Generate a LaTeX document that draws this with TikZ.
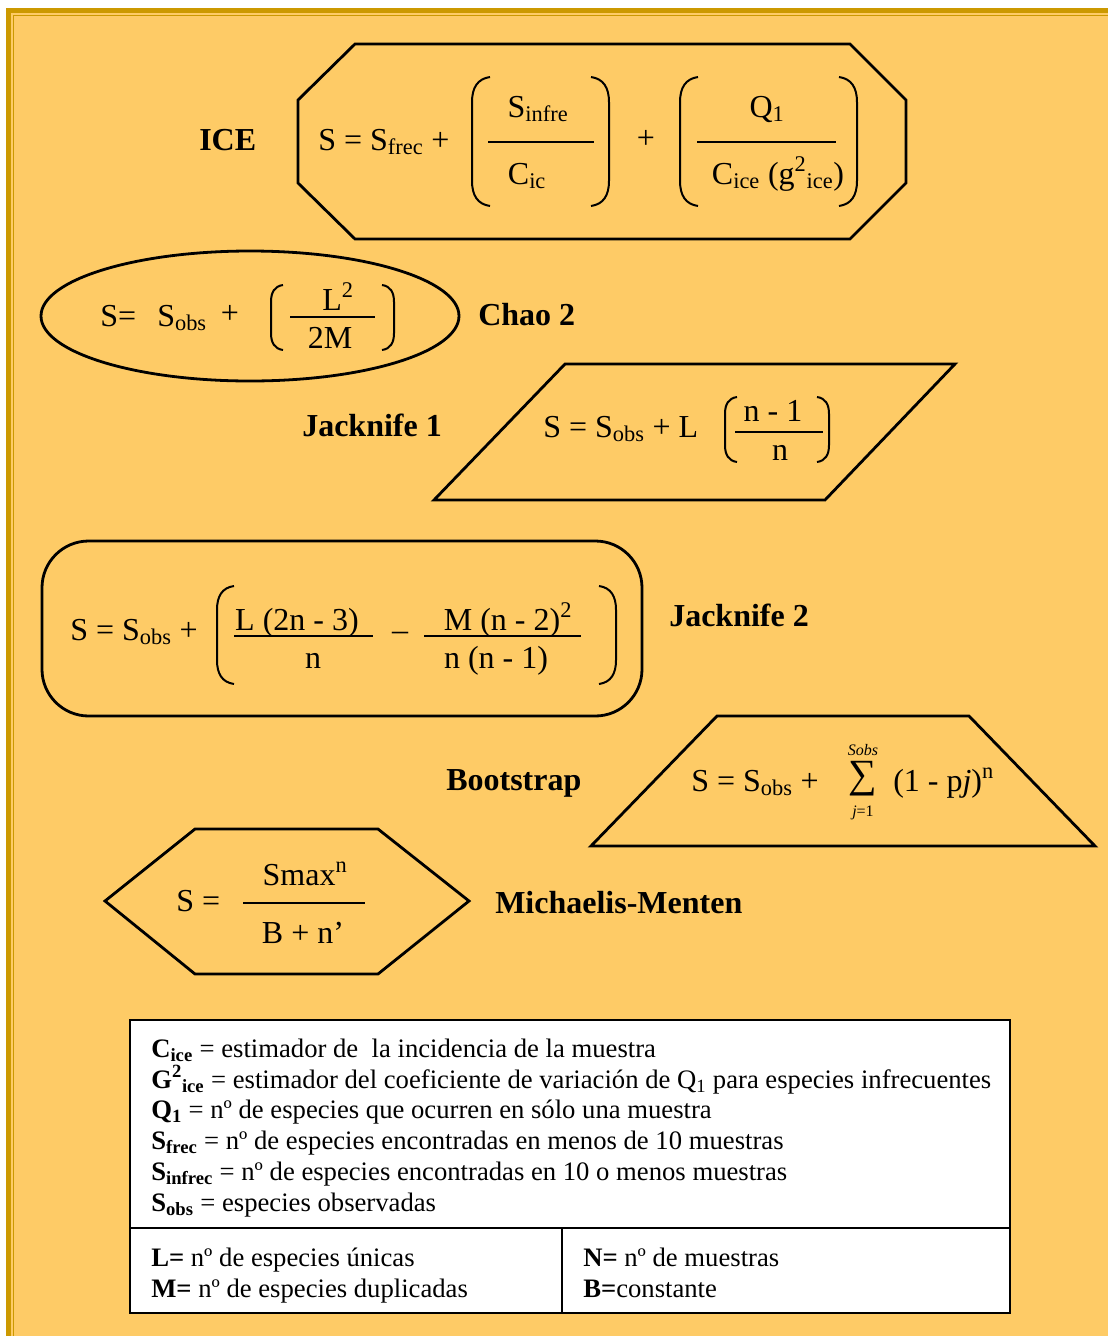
\documentclass[tikz,border=0pt]{standalone}
\usepackage{fontspec}
\setmainfont{Liberation Serif}
\definecolor{bgfill}{HTML}{FECB66}
\definecolor{gold}{HTML}{CC9900}
\newcommand{\LP}[4]{\draw[paren] ({#1+#4},#2) .. controls ({#1+0.3*#4},{#2+0.1*#4}) and (#1,{#2+0.6*#4}) .. (#1,{#2+1.4*#4}) -- (#1,{#3-1.4*#4}) .. controls (#1,{#3-0.6*#4}) and ({#1+0.3*#4},{#3-0.1*#4}) .. ({#1+#4},#3);}
\newcommand{\RP}[4]{\draw[paren] ({#1-#4},#2) .. controls ({#1-0.3*#4},{#2+0.1*#4}) and (#1,{#2+0.6*#4}) .. (#1,{#2+1.4*#4}) -- (#1,{#3-1.4*#4}) .. controls (#1,{#3-0.6*#4}) and ({#1-0.3*#4},{#3-0.1*#4}) .. ({#1-#4},#3);}
\tikzset{
  shapeline/.style={draw=black, line width=2.1pt, line join=miter},
  fbar/.style={line width=1.3pt},
  paren/.style={line width=1.5pt},
  ttl/.style={font=\fontsize{24}{28}\selectfont\bfseries, inner sep=0pt, anchor=base west},
  fx/.style={font=\fontsize{24}{28}\selectfont, inner sep=0pt},
  leg/.style={font=\fontsize{20}{24}\selectfont, inner sep=0pt, anchor=base west},
}
\begin{document}
\begin{tikzpicture}[x=0.75pt,y=-0.75pt]
\useasboundingbox (0,0) rectangle (1108,1336);
\fill[white] (0,0) rectangle (1108,1336);
\fill[gold] (6,8) rectangle (1108,1336);
\fill[bgfill] (11,13) rectangle (1108,1336);
\draw[gold, line width=1.2pt] (13.5,1336) -- (13.5,15.5) -- (1108,15.5);

% ICE
\draw[shapeline, fill=bgfill] (355,44) -- (850,44) -- (906,100) -- (906,183) -- (850,239) -- (355,239) -- (298,183) -- (298,100) -- cycle;
\node[ttl] (tice) at (199,150) {ICE};
\node[fx, anchor=base west] (ice1) at (318,150) {S = S\textsubscript{frec} +};
\LP{472}{77}{206}{18}
\RP{609}{77}{206}{18}
\node[fx, anchor=base] (ice2) at (538,117) {S\textsubscript{infre}};
\draw[fbar] (488,142) -- (594,142);
\node[fx, anchor=base] (ice3) at (527,184) {C\textsubscript{ic}};
\node[fx] (ice4) at (646,139) {+};
\LP{680}{77}{206}{18}
\RP{857}{77}{206}{18}
\node[fx, anchor=base] (ice5) at (767,117) {Q\textsubscript{1}};
\draw[fbar] (697,142) -- (836,142);
\node[fx, anchor=base] (ice6) at (778,184) {C\textsubscript{ice} (g\textsuperscript{2}\textsubscript{ice})};

% Chao 2
\draw[shapeline, fill=bgfill] (250,316) ellipse [x radius=209, y radius=65];
\node[fx, anchor=base west] (ch1) at (100,326) {S=};
\node[fx, anchor=base west] (ch2) at (157,326) {S\textsubscript{obs}};
\node[fx] (ch3) at (230,314) {+};
\LP{271}{285}{350}{12}
\RP{394}{285}{350}{12}
\node[fx, anchor=base] (ch4) at (338,310) {L\textsuperscript{2}};
\draw[fbar] (290,317) -- (375,317);
\node[fx, anchor=base] (ch5) at (330,348) {2M};
\node[ttl] (tchao) at (478,325) {Chao 2};

% Jacknife 1
\draw[shapeline, fill=bgfill] (565,364) -- (955,364) -- (825,500) -- (434,500) -- cycle;
\node[ttl] (tj1) at (302,436) {Jacknife 1};
\node[fx, anchor=base west] (j11) at (543,437) {S = S\textsubscript{obs} + L};
\LP{725}{397}{462}{12}
\RP{829}{397}{462}{12}
\node[fx, anchor=base] (j12) at (773,421) {n - 1};
\draw[fbar] (735,432) -- (823,432);
\node[fx, anchor=base] (j13) at (780,460) {n};

% Jacknife 2
\draw[shapeline, fill=bgfill, rounded corners=35] (42,541) rectangle (642,716);
\node[fx, anchor=base west] (j21) at (70,640) {S = S\textsubscript{obs} +};
\LP{217}{586}{684}{17}
\RP{616}{586}{684}{17}
\node[fx, anchor=base] (j22) at (297,630) {L (2n - 3)};
\draw[fbar] (234,636) -- (373,636);
\node[fx, anchor=base] (j23) at (313,668) {n};
\node[fx] (j24) at (400,636) {–};
\node[fx, anchor=base] (j25) at (508,630) {M (n - 2)\textsuperscript{2}};
\draw[fbar] (424,636) -- (581,636);
\node[fx, anchor=base] (j26) at (496,668) {n (n - 1)};
\node[ttl] (tj2) at (669,626) {Jacknife 2};

% Bootstrap
\draw[shapeline, fill=bgfill] (717,716) -- (969,716) -- (1095,846) -- (591,846) -- cycle;
\node[ttl] (tboot) at (446,790) {Bootstrap};
\node[fx, anchor=base west] (b1) at (691,791) {S = S\textsubscript{obs} +};
\node[inner sep=0pt, font=\fontsize{30}{30}\selectfont] (b2) at (863,779) {∑};
\node[inner sep=0pt, font=\fontsize{12}{12}\selectfont\itshape] (b3) at (863,750) {Sobs};
\node[inner sep=0pt, font=\fontsize{12}{12}\selectfont] (b4) at (863,813) {\textit{j}=1};
\node[fx, anchor=base west] (b5) at (893,791) {(1 - p\textit{j})\textsuperscript{n}};

% Michaelis-Menten
\draw[shapeline, fill=bgfill] (105,901) -- (195,829) -- (378,829) -- (469,901) -- (378,974) -- (195,974) -- cycle;
\node[fx, anchor=base west] (m1) at (176,911) {S =};
\node[fx, anchor=base] (m2) at (305,885) {Smax\textsuperscript{n}};
\draw[fbar] (243,903) -- (365,903);
\node[fx, anchor=base] (m3) at (303,943) {B + n’};
\node[ttl] (tmm) at (495,913) {Michaelis-Menten};

% Legend
\draw[line width=1.5pt, fill=white] (130,1020) rectangle (1010,1313);
\draw[line width=1.5pt] (130,1228) -- (1010,1228);
\draw[line width=1.5pt] (562,1228) -- (562,1313);
\node[leg] (l1) at (151,1057) {\textbf{C\textsubscript{ice}} = estimador de \ la incidencia de la muestra};
\node[leg] (l2) at (151,1088) {\textbf{G\textsuperscript{2}\textsubscript{ice}} = estimador del coeficiente de variación de Q\textsubscript{1} para especies infrecuentes};
\node[leg] (l3) at (151,1118) {\textbf{Q\textsubscript{1}} = nº de especies que ocurren en sólo una muestra};
\node[leg] (l4) at (151,1149) {\textbf{S\textsubscript{frec}} = nº de especies encontradas en menos de 10 muestras};
\node[leg] (l5) at (151,1180) {\textbf{S\textsubscript{infrec}} = nº de especies encontradas en 10 o menos muestras};
\node[leg] (l6) at (151,1211) {\textbf{S\textsubscript{obs}} = especies observadas};
\node[leg] (l7) at (151,1266) {\textbf{L=} nº de especies únicas};
\node[leg] (l8) at (151,1297) {\textbf{M=} nº de especies duplicadas};
\node[leg] (l9) at (583,1266) {\textbf{N=} nº de muestras};
\node[leg] (l10) at (583,1297) {\textbf{B=}constante};
\end{tikzpicture}
\end{document}
